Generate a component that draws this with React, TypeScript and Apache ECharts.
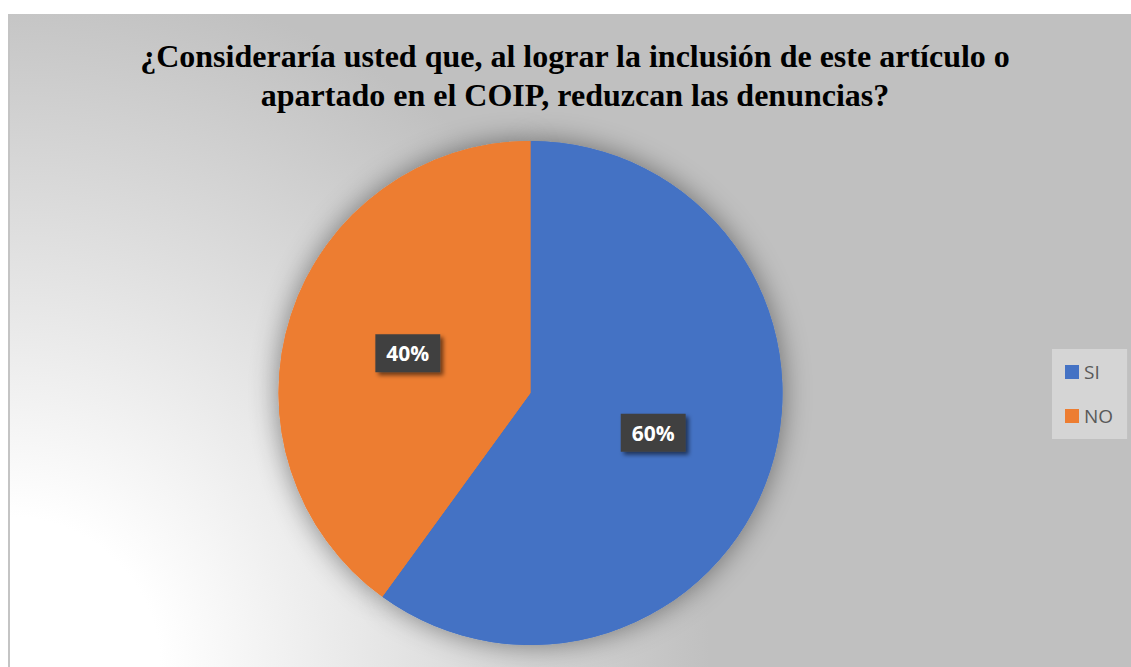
import React, { useEffect, useRef } from "react";
import * as echarts from "echarts";

const titleText = "¿Consideraría usted que, al lograr la inclusión de este artículo o\napartado en el COIP, reduzcan las denuncias?";
const categories = ["SI", "NO"];
const values = [60, 40];
const colors = ["#4472c4", "#ed7d31"];

export default function App() {
  const ref = useRef<HTMLDivElement>(null);
  useEffect(() => {
    if (!ref.current) return;
    const chart = echarts.init(ref.current, undefined, { renderer: "svg" });
    const data = categories.map((c, i) => ({ name: c, value: values[i], itemStyle: { color: colors[i] } }));
    chart.setOption({
      animation: false,
      backgroundColor: "transparent",
      title: {
        text: titleText,
        left: 567,
        textAlign: "center",
        top: 22,
        padding: 0,
        textStyle: {
          fontFamily: "'Liberation Serif', 'Times New Roman', serif",
          fontWeight: "bold",
          fontSize: 32,
          lineHeight: 39,
          color: "#000000",
        },
      },
      legend: {
        data: categories,
        orient: "vertical",
        left: 1044,
        top: 335,
        padding: [13, 14, 13, 13],
        itemGap: 24,
        itemWidth: 14,
        itemHeight: 14,
        icon: "rect",
        backgroundColor: "#d5d5d5",
        textStyle: { fontFamily: "'Open Sans', sans-serif", fontSize: 19, lineHeight: 20, color: "#595959" },
      },
      series: [
        {
          type: "pie",
          silent: true,
          z: 1,
          center: [522.5, 379],
          radius: 252,
          startAngle: 90,
          clockwise: true,
          label: { show: false },
          labelLine: { show: false },
          itemStyle: { shadowBlur: 28, shadowColor: "rgba(0,0,0,0.45)", borderWidth: 0 },
          emphasis: { disabled: true },
          data,
        },
        {
          type: "pie",
          z: 2,
          center: [522.5, 379],
          radius: 252,
          startAngle: 90,
          clockwise: true,
          itemStyle: { borderWidth: 0 },
          emphasis: { disabled: true },
          labelLine: { show: false },
          label: {
            show: true,
            position: "inside",
            formatter: (p: any) => Math.round(p.percent) + "%",
            color: "#ffffff",
            fontFamily: "'Open Sans', sans-serif",
            fontWeight: "bold",
            fontSize: 21,
            lineHeight: 22,
            backgroundColor: "#404040",
            padding: [8, 11],
            shadowBlur: 4,
            shadowOffsetX: 3,
            shadowOffsetY: 3,
            shadowColor: "rgba(0,0,0,0.55)",
          },
          data,
        },
      ],
    });
    return () => chart.dispose();
  }, []);
  return (
    <div
      style={{
        position: "absolute",
        left: 8,
        top: 14,
        width: 1123,
        height: 653,
        boxSizing: "border-box",
        borderLeft: "2px solid #c4c4c4",
        background: "radial-gradient(circle at 0% 100%, #ffffff 0px, #ffffff 150px, #c0c0c0 700px)",
        overflow: "hidden",
      }}
    >
      <div ref={ref} style={{ position: "absolute", left: -2, top: 0, width: 1123, height: 653 }} />
    </div>
  );
}
